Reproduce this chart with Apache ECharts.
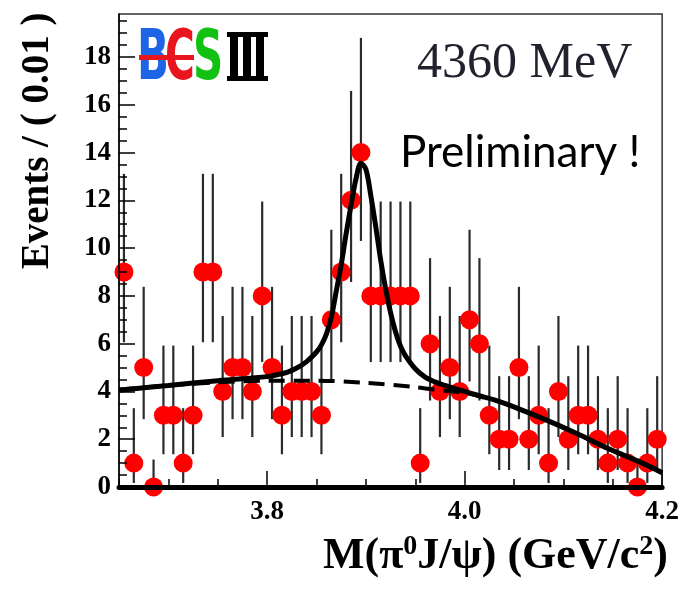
<!DOCTYPE html>
<html>
<head>
<meta charset="utf-8">
<script src="https://cdn.jsdelivr.net/npm/echarts@6/dist/echarts.min.js"></script>
<style>
  html, body { margin: 0; padding: 0; background: #fff; }
  #main { width: 682px; height: 591px; }
</style>
</head>
<body>
<div id="main"></div>
<script>
// bin centres, M(pi0 J/psi) in GeV/c^2, bin width 0.01
const binCenters = [
  3.655, 3.665, 3.675, 3.685, 3.695, 3.705, 3.715, 3.725, 3.735, 3.745,
  3.755, 3.765, 3.775, 3.785, 3.795, 3.805, 3.815, 3.825, 3.835, 3.845,
  3.855, 3.865, 3.875, 3.885, 3.895, 3.905, 3.915, 3.925, 3.935, 3.945,
  3.955, 3.965, 3.975, 3.985, 3.995, 4.005, 4.015, 4.025, 4.035, 4.045,
  4.055, 4.065, 4.075, 4.085, 4.095, 4.105, 4.115, 4.125, 4.135, 4.145,
  4.155, 4.165, 4.175, 4.185, 4.195
];
const events = [
  9, 1, 5, 0, 3, 3, 1, 3, 9, 9,
  4, 5, 5, 4, 8, 5, 3, 4, 4, 4,
  3, 7, 9, 12, 14, 8, 8, 8, 8, 8,
  1, 6, 4, 5, 4, 7, 6, 3, 2, 2,
  5, 2, 3, 1, 4, 2, 3, 3, 2, 1,
  2, 1, 0, 1, 2
];
// error bar ends (asymmetric)
const errLo = [
  6.06, 0.17, 2.84, 0, 1.37, 1.37, 0.17, 1.37, 6.06, 6.06,
  2.09, 2.84, 2.84, 2.09, 5.23, 2.84, 1.37, 2.09, 2.09, 2.09,
  1.37, 4.42, 6.06, 8.58, 10.3, 5.23, 5.23, 5.23, 5.23, 5.23,
  0.17, 3.62, 2.09, 2.84, 2.09, 4.42, 3.62, 1.37, 0.71, 0.71,
  2.84, 0.71, 1.37, 0.17, 2.09, 0.71, 1.37, 1.37, 0.71, 0.17,
  0.71, 0.17, 0, 0.17, 0.71
];
const errHi = [
  13.11, 3.3, 8.38, 1.15, 5.92, 5.92, 3.3, 5.92, 13.11, 13.11,
  7.16, 8.38, 8.38, 7.16, 11.95, 8.38, 5.92, 7.16, 7.16, 7.16,
  5.92, 10.77, 13.11, 16.58, 18.8, 11.95, 11.95, 11.95, 11.95, 11.95,
  3.3, 9.58, 7.16, 8.38, 7.16, 10.77, 9.58, 5.92, 4.64, 4.64,
  8.38, 4.64, 5.92, 3.3, 7.16, 4.64, 5.92, 5.92, 4.64, 3.3,
  4.64, 3.3, 1.15, 3.3, 4.64
];

// total fit (solid) and background (dashed)
const fitX = [3.65, 3.70, 3.75, 3.80, 3.81, 3.82, 3.83, 3.84, 3.85, 3.855,
  3.86, 3.865, 3.87, 3.875, 3.88, 3.885, 3.89, 3.895, 3.90, 3.905,
  3.91, 3.915, 3.92, 3.925, 3.93, 3.935, 3.94, 3.95, 3.96, 3.97,
  3.98, 3.99, 4.00, 4.015, 4.03, 4.046, 4.08, 4.113, 4.146, 4.18, 4.2];
const fitY = [4.05, 4.25, 4.45, 4.62, 4.70, 4.80, 4.98, 5.25, 5.65, 5.95,
  6.4, 7.1, 8.2, 9.3, 10.6, 11.8, 12.9, 13.55, 13.3, 12.2,
  10.9, 9.5, 8.3, 7.3, 6.5, 5.9, 5.5, 4.95, 4.6, 4.4,
  4.25, 4.12, 4.0, 3.82, 3.65, 3.42, 2.85, 2.25, 1.6, 1.0, 0.6];
const bkgX = [3.65, 3.70, 3.75, 3.80, 3.85, 3.90, 3.95, 3.98, 4.0, 4.015,
  4.03, 4.046, 4.08, 4.113, 4.146, 4.18, 4.2];
const bkgY = [4.08, 4.25, 4.38, 4.45, 4.45, 4.36, 4.18, 4.03, 3.95, 3.8,
  3.64, 3.42, 2.85, 2.25, 1.6, 1.0, 0.6];

const xLabels = [3.8, 4.0, 4.2];
const yLabels = [0, 2, 4, 6, 8, 10, 12, 14, 16, 18];

const chart = echarts.init(document.getElementById('main'));

const pts = binCenters.map(function (x, i) { return [x, events[i]]; });
const bars = binCenters.map(function (x, i) { return [x, errLo[i], errHi[i]]; });
const fit = fitX.map(function (x, i) { return [x, fitY[i]]; });
const bkg = bkgX.map(function (x, i) { return [x, bkgY[i]]; });

const labelFont = {
  fontFamily: 'Liberation Serif',
  fontWeight: 'bold',
  fontSize: 27,
  color: '#000'
};

const option = {
  animation: false,
  backgroundColor: '#fff',
  grid: {
    left: 119, right: 14, top: 14, bottom: 104,
    show: true,
    borderColor: '#333',
    borderWidth: 1.5
  },
  xAxis: [{
    type: 'value',
    min: 3.65, max: 4.2,
    interval: 0.05,
    z: 10,
    axisLine: { lineStyle: { color: '#000', width: 5 } },
    axisTick: { inside: true, length: 8, lineStyle: { color: '#000', width: 1.5 } },
    axisLabel: Object.assign({
      customValues: xLabels,
      margin: 12,
      formatter: function (v) { return v.toFixed(1); }
    }, labelFont),
    splitLine: { show: false }
  }, {
    type: 'value',
    min: 3.65, max: 4.2,
    position: 'bottom',
    z: 10,
    axisLine: { show: false },
    axisTick: { inside: true, length: 16, customValues: xLabels, lineStyle: { color: '#000', width: 1.5 } },
    axisLabel: { show: false },
    splitLine: { show: false }
  }],
  yAxis: {
    type: 'value',
    min: 0, max: 19.8,
    interval: 2,
    z: 10,
    axisLine: { lineStyle: { color: '#000', width: 1.5 } },
    axisTick: { inside: true, length: 16, customValues: yLabels, lineStyle: { color: '#000', width: 1.5 } },
    minorTick: { show: true, splitNumber: 4, length: 8, lineStyle: { color: '#000', width: 1.5 } },
    axisLabel: Object.assign({ customValues: yLabels, margin: 8 }, labelFont),
    splitLine: { show: false },
    minorSplitLine: { show: false }
  },
  series: [{
    type: 'custom',
    z: 2,
    data: bars,
    renderItem: function (params, api) {
      const a = api.coord([api.value(0), api.value(1)]);
      const b = api.coord([api.value(0), api.value(2)]);
      return {
        type: 'line',
        shape: { x1: a[0], y1: a[1], x2: b[0], y2: b[1] },
        style: { stroke: '#2b2b2b', lineWidth: 2.2 }
      };
    }
  }, {
    type: 'scatter',
    z: 3,
    data: pts,
    symbol: 'circle',
    symbolSize: 19,
    itemStyle: { color: '#ff0000', opacity: 1 }
  }, {
    type: 'line',
    z: 4,
    data: bkg,
    smooth: 0.3,
    symbol: 'none',
    lineStyle: { color: '#000', width: 4, type: [16, 9] }
  }, {
    type: 'line',
    z: 5,
    data: fit,
    smooth: 0.35,
    symbol: 'none',
    lineStyle: { color: '#000', width: 5 }
  }],
  graphic: [
    // BESIII logo
    { type: 'text', x: 137, y: 61, scaleX: 0.6, z: 20,
      style: { text: 'B', font: 'bold 70px "DejaVu Sans"', fill: '#1e64e6', verticalAlign: 'middle' } },
    { type: 'text', x: 165, y: 61, scaleX: 0.58, z: 20,
      style: { text: 'C', font: 'bold 70px "DejaVu Sans"', fill: '#e8141e', verticalAlign: 'middle' } },
    { type: 'text', x: 193, y: 61, scaleX: 0.6, z: 20,
      style: { text: 'S', font: 'bold 70px "DejaVu Sans"', fill: '#12c212', verticalAlign: 'middle' } },
    { type: 'rect', z: 21, shape: { x: 139, y: 55, width: 55, height: 5 }, style: { fill: '#e8141e' } },
    { type: 'rect', z: 21, shape: { x: 227, y: 32, width: 41, height: 5 }, style: { fill: '#000' } },
    { type: 'rect', z: 21, shape: { x: 227, y: 76, width: 41, height: 5 }, style: { fill: '#000' } },
    { type: 'rect', z: 21, shape: { x: 230, y: 32, width: 8, height: 49 }, style: { fill: '#000' } },
    { type: 'rect', z: 21, shape: { x: 243, y: 32, width: 8, height: 49 }, style: { fill: '#000' } },
    { type: 'rect', z: 21, shape: { x: 256, y: 32, width: 8, height: 49 }, style: { fill: '#000' } },
    // labels in the plot
    { type: 'text', x: 417, y: 64, z: 20,
      style: { text: '4360 MeV', font: '50px "Liberation Serif"', fill: '#22222e', verticalAlign: 'middle' } },
    { type: 'text', x: 400, y: 153, z: 20,
      style: { text: 'Preliminary !', font: '44px Lato', fill: '#000', verticalAlign: 'middle' } },
    // axis titles
    { type: 'text', x: 38, y: 141, rotation: Math.PI / 2, z: 20,
      style: { text: 'Events / ( 0.01 )', font: 'bold 39px "Liberation Serif"', fill: '#000',
        align: 'center', verticalAlign: 'middle' } },
    { type: 'text', x: 668, y: 557, z: 20,
      style: {
        text: '{a|M(π}{s|0}{a|J/ψ) (GeV/c}{s|2}{a|)}',
        align: 'right', verticalAlign: 'middle',
        rich: {
          a: { fontFamily: 'Liberation Serif', fontWeight: 'bold', fontSize: 44, lineHeight: 48, fill: '#000' },
          s: { fontFamily: 'Liberation Serif', fontWeight: 'bold', fontSize: 28, lineHeight: 24, verticalAlign: 'top', fill: '#000' }
        }
      } }
  ]
};

chart.setOption(option);
</script>
</body>
</html>
